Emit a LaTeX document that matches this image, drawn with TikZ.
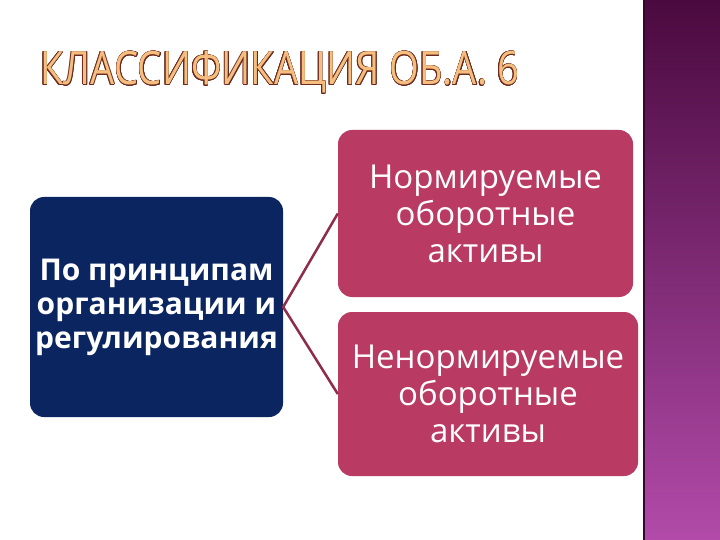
\documentclass[tikz,border=0pt]{standalone}
\usepackage{fontspec}
\setmainfont{Open Sans}
\newfontfamily\titlefont[FakeStretch=0.83]{Open Sans}
\usepackage[copies]{contour}
\contourlength{0.6pt}
\definecolor{navy}{HTML}{0B2560}
\definecolor{crimson}{HTML}{B93A62}
\definecolor{linkred}{HTML}{8E2C4A}
\definecolor{stripTop}{HTML}{4A0A3F}
\definecolor{stripBot}{HTML}{B24BA9}
\definecolor{stripLine}{HTML}{34082C}
\definecolor{titleFill}{HTML}{F5BE7E}
\definecolor{titleLine}{HTML}{6B2A1F}
\tikzset{
  leftbox/.style={fill=navy,rounded corners=14pt,text=white,align=center,inner sep=0pt,
    minimum width=253pt,minimum height=220pt,font=\bfseries\fontsize{30}{34}\selectfont},
  rightbox/.style={fill=crimson,rounded corners=14pt,text=white,align=center,inner sep=0pt,
    font=\fontsize{33}{37}\selectfont},
  link/.style={linkred,line width=2.5pt}
}
\begin{document}
\begin{tikzpicture}[x=1pt,y=-1pt]
  \useasboundingbox (0,0) rectangle (720,540);
  \fill[white] (0,0) rectangle (720,540);
  \shade[top color=stripTop,bottom color=stripBot] (643,0) rectangle (720,540);
  \draw[stripLine,line width=2pt] (644,0) -- (644,540);
  \node[anchor=base west,inner sep=0pt,font=\titlefont\fontsize{46}{46}\selectfont] (title) at (40,85)
    {\contour{titleLine}{\textcolor{titleFill}{КЛАССИФИКАЦИЯ ОБ.А. 6}}};
  \node[leftbox] (cls) at (156.5,307) {По принципам\\организации и\\регулирования};
  \node[rightbox,minimum width=295pt,minimum height=167pt] (norm) at (485.5,213.5)
    {Нормируемые\\оборотные\\активы};
  \node[rightbox,minimum width=300pt,minimum height=164pt] (nonnorm) at (488,394)
    {Ненормируемые\\оборотные\\активы};
  \draw[link] (norm.west) -- (cls.east) -- (nonnorm.west);
\end{tikzpicture}
\end{document}
